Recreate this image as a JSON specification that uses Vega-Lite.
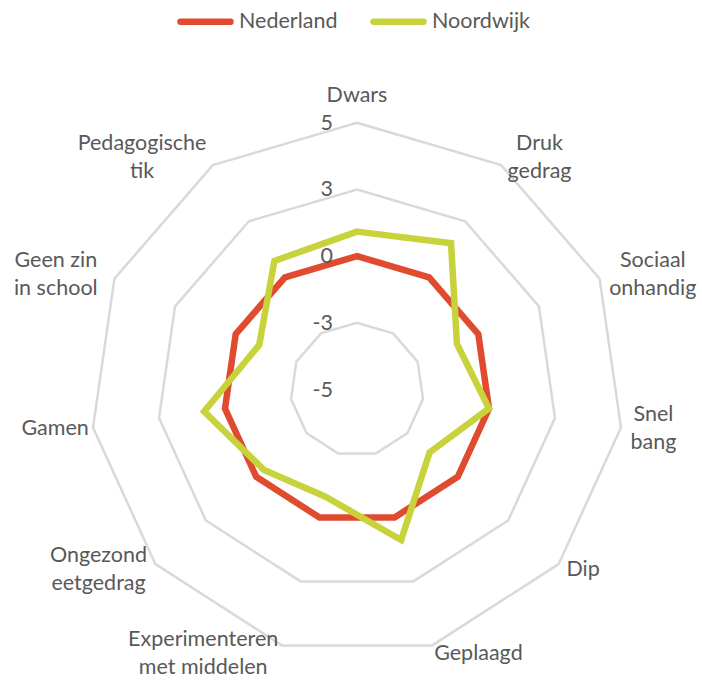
{
  "$schema": "https://vega.github.io/schema/vega-lite/v6.json",
  "width": 702,
  "height": 680,
  "padding": 0,
  "autosize": {"type": "none"},
  "background": "white",
  "config": {"view": {"stroke": null}, "text": {"font": "Lato"}},
  "datasets": {
    "scores": [
      {"categorie": "Dwars", "i": 0, "reeks": "Nederland", "waarde": 0},
      {"categorie": "Druk gedrag", "i": 1, "reeks": "Nederland", "waarde": 0},
      {"categorie": "Sociaal onhandig", "i": 2, "reeks": "Nederland", "waarde": 0},
      {"categorie": "Snel bang", "i": 3, "reeks": "Nederland", "waarde": 0},
      {"categorie": "Dip", "i": 4, "reeks": "Nederland", "waarde": 0},
      {"categorie": "Geplaagd", "i": 5, "reeks": "Nederland", "waarde": 0},
      {"categorie": "Experimenteren met middelen", "i": 6, "reeks": "Nederland", "waarde": 0},
      {"categorie": "Ongezond eetgedrag", "i": 7, "reeks": "Nederland", "waarde": 0},
      {"categorie": "Gamen", "i": 8, "reeks": "Nederland", "waarde": 0},
      {"categorie": "Geen zin in school", "i": 9, "reeks": "Nederland", "waarde": 0},
      {"categorie": "Pedagogische tik", "i": 10, "reeks": "Nederland", "waarde": 0},
      {"categorie": "Dwars", "i": 0, "reeks": "Noordwijk", "waarde": 0.92},
      {"categorie": "Druk gedrag", "i": 1, "reeks": "Noordwijk", "waarde": 1.52},
      {"categorie": "Sociaal onhandig", "i": 2, "reeks": "Noordwijk", "waarde": -0.88},
      {"categorie": "Snel bang", "i": 3, "reeks": "Noordwijk", "waarde": 0},
      {"categorie": "Dip", "i": 4, "reeks": "Noordwijk", "waarde": -1.4},
      {"categorie": "Geplaagd", "i": 5, "reeks": "Noordwijk", "waarde": 0.88},
      {"categorie": "Experimenteren met middelen", "i": 6, "reeks": "Noordwijk", "waarde": -0.81},
      {"categorie": "Ongezond eetgedrag", "i": 7, "reeks": "Noordwijk", "waarde": -0.39},
      {"categorie": "Gamen", "i": 8, "reeks": "Noordwijk", "waarde": 0.79},
      {"categorie": "Geen zin in school", "i": 9, "reeks": "Noordwijk", "waarde": -0.97},
      {"categorie": "Pedagogische tik", "i": 10, "reeks": "Noordwijk", "waarde": 0.73}
    ],
    "grid": [
      {"ring": -2.5, "i": 0}, {"ring": -2.5, "i": 1}, {"ring": -2.5, "i": 2}, {"ring": -2.5, "i": 3}, {"ring": -2.5, "i": 4}, {"ring": -2.5, "i": 5}, {"ring": -2.5, "i": 6}, {"ring": -2.5, "i": 7}, {"ring": -2.5, "i": 8}, {"ring": -2.5, "i": 9}, {"ring": -2.5, "i": 10},
      {"ring": 0, "i": 0}, {"ring": 0, "i": 1}, {"ring": 0, "i": 2}, {"ring": 0, "i": 3}, {"ring": 0, "i": 4}, {"ring": 0, "i": 5}, {"ring": 0, "i": 6}, {"ring": 0, "i": 7}, {"ring": 0, "i": 8}, {"ring": 0, "i": 9}, {"ring": 0, "i": 10},
      {"ring": 2.5, "i": 0}, {"ring": 2.5, "i": 1}, {"ring": 2.5, "i": 2}, {"ring": 2.5, "i": 3}, {"ring": 2.5, "i": 4}, {"ring": 2.5, "i": 5}, {"ring": 2.5, "i": 6}, {"ring": 2.5, "i": 7}, {"ring": 2.5, "i": 8}, {"ring": 2.5, "i": 9}, {"ring": 2.5, "i": 10},
      {"ring": 5, "i": 0}, {"ring": 5, "i": 1}, {"ring": 5, "i": 2}, {"ring": 5, "i": 3}, {"ring": 5, "i": 4}, {"ring": 5, "i": 5}, {"ring": 5, "i": 6}, {"ring": 5, "i": 7}, {"ring": 5, "i": 8}, {"ring": 5, "i": 9}, {"ring": 5, "i": 10}
    ],
    "ticks": [
      {"v": 5, "t": "5"},
      {"v": 2.5, "t": "3"},
      {"v": 0, "t": "0"},
      {"v": -2.5, "t": "-3"},
      {"v": -5, "t": "-5"}
    ],
    "cats": [
      {"i": 0, "label": "Dwars"},
      {"i": 1, "label": "Druk\ngedrag"},
      {"i": 2, "label": "Sociaal\nonhandig"},
      {"i": 3, "label": "Snel\nbang"},
      {"i": 4, "label": "Dip"},
      {"i": 5, "label": "Geplaagd"},
      {"i": 6, "label": "Experimenteren\nmet middelen"},
      {"i": 7, "label": "Ongezond\neetgedrag"},
      {"i": 8, "label": "Gamen"},
      {"i": 9, "label": "Geen zin\nin school"},
      {"i": 10, "label": "Pedagogische\ntik"}
    ]
  },
  "layer": [
    {
      "data": {"name": "grid"},
      "transform": [
        {"calculate": "2*PI*datum.i/11", "as": "a"},
        {"calculate": "(datum.ring+5)*26.67", "as": "r"},
        {"calculate": "datum.r*sin(datum.a)", "as": "px"},
        {"calculate": "datum.r*cos(datum.a)", "as": "py"}
      ],
      "mark": {"type": "line", "interpolate": "linear-closed", "color": "#D9D9D9", "strokeWidth": 2.5},
      "encoding": {
        "x": {"field": "px", "type": "quantitative", "scale": {"domain": [-357, 345], "nice": false, "zero": false}, "axis": null},
        "y": {"field": "py", "type": "quantitative", "scale": {"domain": [-290.5, 389.5], "nice": false, "zero": false}, "axis": null},
        "detail": {"field": "ring", "type": "nominal"},
        "order": {"field": "i", "type": "quantitative"}
      }
    },
    {
      "data": {"name": "scores"},
      "transform": [
        {"calculate": "2*PI*datum.i/11", "as": "a"},
        {"calculate": "(datum.waarde+5)*26.67", "as": "r"},
        {"calculate": "datum.r*sin(datum.a)", "as": "px"},
        {"calculate": "datum.r*cos(datum.a)", "as": "py"}
      ],
      "mark": {"type": "line", "interpolate": "linear-closed", "strokeWidth": 6.5, "strokeJoin": "miter"},
      "encoding": {
        "x": {"field": "px", "type": "quantitative", "scale": {"domain": [-357, 345], "nice": false, "zero": false}, "axis": null},
        "y": {"field": "py", "type": "quantitative", "scale": {"domain": [-290.5, 389.5], "nice": false, "zero": false}, "axis": null},
        "color": {
          "field": "reeks",
          "type": "nominal",
          "scale": {"domain": ["Nederland", "Noordwijk"], "range": ["#E04A2F", "#C8D23A"]},
          "legend": {
            "orient": "none",
            "legendX": 177,
            "legendY": -7,
            "direction": "horizontal",
            "title": null,
            "padding": 0,
            "symbolType": "stroke",
            "symbolSize": 2500,
            "symbolStrokeWidth": 6.5,
            "labelFont": "Lato",
            "labelFontSize": 21.5,
            "labelColor": "#595959",
            "labelOffset": 5,
            "columnPadding": 22,
            "encode": {"symbols": {"update": {"strokeCap": {"value": "round"}}}}
          }
        },
        "order": {"field": "i", "type": "quantitative"}
      }
    },
    {
      "data": {"name": "ticks"},
      "transform": [
        {"calculate": "0", "as": "px"},
        {"calculate": "(datum.v+5)*26.67", "as": "py"}
      ],
      "mark": {"type": "text", "align": "right", "baseline": "middle", "dx": -24, "dy": 1, "fontSize": 21.5, "color": "#595959", "font": "Lato"},
      "encoding": {
        "x": {"field": "px", "type": "quantitative", "scale": {"domain": [-357, 345], "nice": false, "zero": false}, "axis": null},
        "y": {"field": "py", "type": "quantitative", "scale": {"domain": [-290.5, 389.5], "nice": false, "zero": false}, "axis": null},
        "text": {"field": "t", "type": "nominal"}
      }
    },
    {
      "data": {"name": "cats"},
      "transform": [
        {"calculate": "2*PI*datum.i/11", "as": "a"},
        {"calculate": "sin(datum.a)", "as": "sx"},
        {"calculate": "cos(datum.a)", "as": "cy"},
        {"calculate": "split(datum.label, '\\n')", "as": "lines"},
        {"calculate": "max(length(datum.lines[0]), length(peek(datum.lines)))", "as": "w"},
        {"calculate": "datum.sx > 0.01 ? 1 : (datum.sx < -0.01 ? -1 : 0)", "as": "side"},
        {"calculate": "266.7*datum.sx + 11*datum.sx + datum.side*datum.w*5.4", "as": "lx"},
        {"calculate": "(datum.i == 0 ? 266.7 + 27 : 266.7*datum.cy + 9*datum.cy) + (length(datum.lines) - 1)*14", "as": "ly"}
      ],
      "mark": {"type": "text", "align": "center", "baseline": "middle", "lineBreak": "\n", "lineHeight": 28, "fontSize": 21.5, "color": "#595959", "font": "Lato"},
      "encoding": {
        "x": {"field": "lx", "type": "quantitative", "scale": {"domain": [-357, 345], "nice": false, "zero": false}, "axis": null},
        "y": {"field": "ly", "type": "quantitative", "scale": {"domain": [-290.5, 389.5], "nice": false, "zero": false}, "axis": null},
        "text": {"field": "label", "type": "nominal"}
      }
    }
  ]
}
